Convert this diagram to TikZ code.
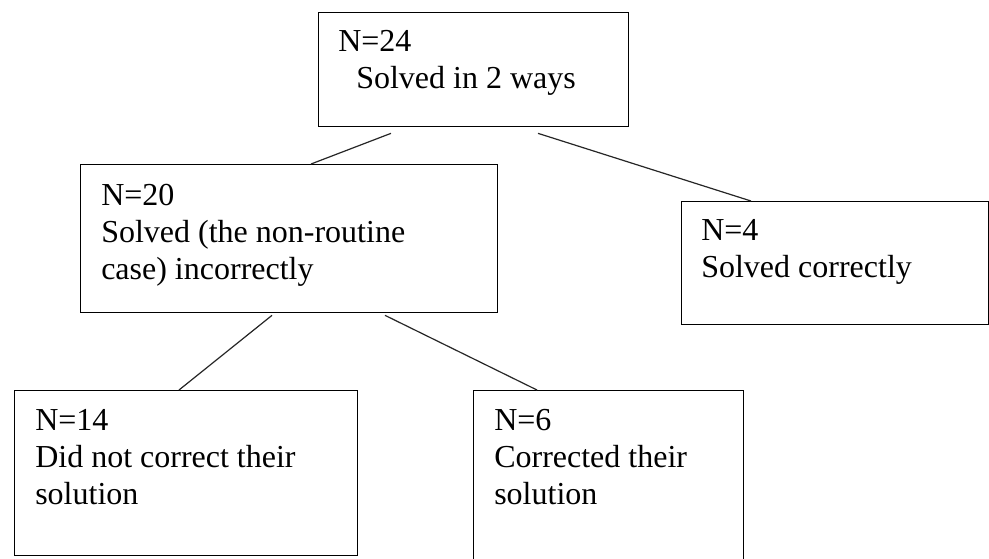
\documentclass[tikz,border=0pt]{standalone}
\usepackage{fontspec}
\setmainfont{Liberation Serif}
\usepackage{tikz}
\usetikzlibrary{positioning, calc}

\tikzset{
  box/.style={draw, line width=1pt, rectangle, inner sep=0pt, anchor=north west},
  txt/.style={anchor=base west, inner sep=0pt, align=left, font=\fontsize{24}{27.5}\selectfont},
  link/.style={line width=0.9pt, draw=black!85}
}

\begin{document}
\begin{tikzpicture}[x=0.75pt, y=-0.75pt]
                \useasboundingbox[fill=white] (0,0) rectangle (989,558);
                % boxes
                \node[box, minimum width=232.5pt, minimum height=85.5pt] (n24) at (318,12) {};
                \node[box, minimum width=312.75pt, minimum height=111pt] (n20) at (80,164) {};
                \node[box, minimum width=230.25pt, minimum height=92.25pt] (n4) at (681,201) {};
                \node[box, minimum width=257.25pt, minimum height=123.75pt] (n14) at (14,390) {};
                \node[box, minimum width=202.5pt, minimum height=135pt] (n6) at (473,390) {};
                % texts (anchored at the baseline of the last line)
                \node[txt] (t24) at ([shift={(20,76)}]n24.north west) {N=24\\\hspace*{13.5pt}Solved in 2 ways};
                \node[txt] (t20) at ([shift={(21,115)}]n20.north west) {N=20\\Solved (the non-routine\\case) incorrectly};
                \node[txt] (t4) at ([shift={(20,76)}]n4.north west) {N=4\\Solved correctly};
                \node[txt] (t14) at ([shift={(21,114)}]n14.north west) {N=14\\Did not correct their\\solution};
                \node[txt] (t6) at ([shift={(21,114)}]n6.north west) {N=6\\Corrected their\\solution};
                % links
                \draw[link] ($(n24.south west)+(73,6)$) -- ($(n20.north west)+(231,0)$);
                \draw[link] ($(n24.south west)+(220,6)$) -- ($(n4.north west)+(70,0)$);
                \draw[link] ($(n20.south west)+(192,2)$) -- ($(n14.north west)+(165,0)$);
                \draw[link] ($(n20.south west)+(305,2)$) -- ($(n6.north west)+(64,0)$);
            \end{tikzpicture}
\end{document}
